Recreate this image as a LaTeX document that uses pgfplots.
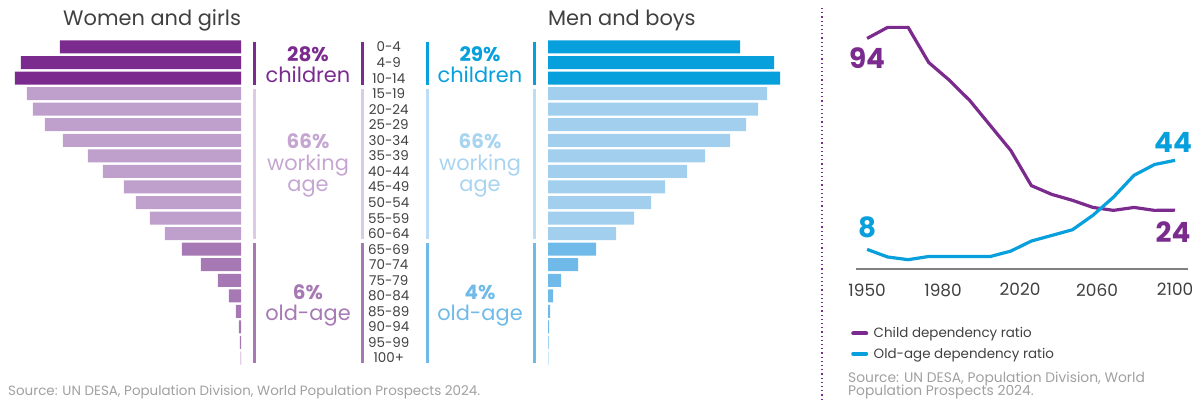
\documentclass[border=0pt]{standalone}
\usepackage{pgfplots}
\pgfplotsset{compat=1.18}
\usepackage{fontspec}
\setmainfont{Poppins}
\definecolor{wchild}{HTML}{7B2B8E}
\definecolor{wwork}{HTML}{BF9FCC}
\definecolor{wold}{HTML}{A678B4}
\definecolor{wworkbr}{HTML}{DCCBE5}
\definecolor{wworktx}{HTML}{C4A6D1}
\definecolor{mchild}{HTML}{079FDC}
\definecolor{mwork}{HTML}{A2CFEE}
\definecolor{mold}{HTML}{6FBAE8}
\definecolor{mworkbr}{HTML}{BCDDF3}
\definecolor{mworktx}{HTML}{A8D4F0}
\definecolor{txt}{HTML}{404040}
\definecolor{src}{HTML}{A0A0A0}
\definecolor{axisgray}{HTML}{808080}
\newcommand{\fs}[1]{\fontsize{#1}{#1}\selectfont}
\begin{document}
\begin{tikzpicture}
\path[use as bounding box] (0bp,0bp) rectangle (1192bp,-403bp);
% ---------------- Women ----------------
\begin{axis}[
  at={(241bp,-39.2bp)}, anchor=north east,
  scale only axis, width=241bp, height=326.6bp,
  xmin=0, xmax=241, ymin=-0.5, ymax=20.5,
  y dir=reverse, x dir=reverse, hide axis,
  xbar, bar width=13bp, bar shift=0pt,
]
\addplot[draw=none, fill=wchild, bar shift=0pt] coordinates {(181,0) (220,1) (226,2)};
\addplot[draw=none, fill=wwork, bar shift=0pt] coordinates {(214,3) (208,4) (196,5) (178,6) (153,7) (138,8) (117,9) (105,10) (91,11) (76,12)};
\addplot[draw=none, fill=wold, bar shift=0pt] coordinates {(59,13) (40,14) (23,15) (12,16) (5,17) (2,18) (1,19) (0.5,20)};
\end{axis}
% ---------------- Men ----------------
\begin{axis}[
  at={(548bp,-39.2bp)}, anchor=north west,
  scale only axis, width=240bp, height=326.6bp,
  xmin=0, xmax=240, ymin=-0.5, ymax=20.5,
  y dir=reverse,
  axis line style={draw=none}, tick style={draw=none},
  xtick=\empty, ytick={0,...,20},
  yticklabels={0-4,4-9,10-14,15-19,20-24,25-29,30-34,35-39,40-44,45-49,50-54,55-59,60-64,65-69,70-74,75-79,80-84,85-89,90-94,95-99,100+},
  yticklabel style={anchor=center, xshift=-155bp, font=\fs{13.5}, text=txt},
  xbar, bar width=13bp, bar shift=0pt,
]
\addplot[draw=none, fill=mchild, bar shift=0pt] coordinates {(192,0) (226,1) (232,2)};
\addplot[draw=none, fill=mwork, bar shift=0pt] coordinates {(219,3) (210,4) (198,5) (182,6) (157,7) (139,8) (117,9) (103,10) (86,11) (68,12)};
\addplot[draw=none, fill=mold, bar shift=0pt] coordinates {(48,13) (30,14) (13,15) (5,16) (2,17) (1,18) (0.5,19) (0.3,20)};
\end{axis}
% ---------------- Dependency ratios ----------------
\begin{axis}[
  at={(856bp,-269bp)}, anchor=south west,
  scale only axis, width=332bp, height=245.3bp,
  xmin=1944.6, xmax=2106.3, ymin=0, ymax=100,
  axis x line*=bottom, axis y line=none,
  x axis line style={axisgray, line width=1.5bp},
  tick style={draw=none},
  xtick={1950,1987,2024.5,2062,2100},
  xticklabels={1950,1980,2020,2060,2100},
  xticklabel style={font=\fs{17}, text=txt, yshift=-11bp},
  clip=false,
  legend style={at={(axis description cs:-0.015,-0.23)}, anchor=north west, draw=none, fill=none,
    font=\fs{13.5}, text=txt, row sep=4.5bp, column sep=3.5bp, inner sep=0pt, cells={anchor=west}},
  legend cell align=left,
  legend image code/.code={\draw[#1, line width=4bp, line cap=round] (0bp,0bp) -- (13bp,0bp);},
]
\addplot[wchild, line width=3.2bp] coordinates {
(1950,94) (1960,98.5) (1970,98.5) (1980,84.2) (1990,77) (2000,68.7) (2010,58.5) (2020,48.3)
(2030,34) (2040,30.4) (2050,28) (2060,25.1) (2070,23.9) (2080,25.1) (2090,23.9) (2100,24)};
\addlegendentry{Child dependency ratio}
\addplot[mchild, line width=3.2bp] coordinates {
(1950,8) (1960,4.9) (1970,3.8) (1980,5.1) (1990,5.1) (2000,5.1) (2010,5.1) (2020,7.3)
(2030,11.4) (2040,13.7) (2050,16) (2060,21.9) (2070,29.3) (2080,38.2) (2090,42.6) (2100,44.3)};
\addlegendentry{Old-age dependency ratio}
\node[font=\bfseries\fs{28}, text=wchild] at (axis cs:1950,86) {94};
\node[font=\bfseries\fs{28}, text=mchild] at (axis cs:2099,51.6) {44};
\node[font=\bfseries\fs{28}, text=mchild] at (axis cs:1950,17) {8};
\node[font=\bfseries\fs{28}, text=wchild] at (axis cs:2099,15) {24};
\end{axis}
\begin{scope}[x=1bp,y=1bp]
% brackets
\foreach \x in {254,362} {
  \draw[wchild, line width=3bp] (\x,-42) -- (\x,-85);
  \draw[wworkbr, line width=3bp] (\x,-89) -- (\x,-239);
  \draw[wold, line width=3bp] (\x,-243) -- (\x,-363);
}
\foreach \x in {427,534} {
  \draw[mchild, line width=3bp] (\x,-42) -- (\x,-85);
  \draw[mworkbr, line width=3bp] (\x,-89) -- (\x,-239);
  \draw[mold, line width=3bp] (\x,-243) -- (\x,-363);
}
% group texts
\node[anchor=base, font=\bfseries\fs{20}, text=wchild] at (308,-61) {28\%};
\node[anchor=base, font=\fs{21}, text=wchild] at (308,-82) {children};
\node[anchor=base, font=\bfseries\fs{20}, text=wworktx] at (308,-148) {66\%};
\node[anchor=base, font=\fs{21}, text=wworktx] at (308,-170) {working};
\node[anchor=base, font=\fs{21}, text=wworktx] at (308,-191) {age};
\node[anchor=base, font=\bfseries\fs{20}, text=wold] at (308,-299) {6\%};
\node[anchor=base, font=\fs{21}, text=wold] at (308,-320) {old-age};
\node[anchor=base, font=\bfseries\fs{20}, text=mchild] at (480,-61) {29\%};
\node[anchor=base, font=\fs{21}, text=mchild] at (480,-82) {children};
\node[anchor=base, font=\bfseries\fs{20}, text=mworktx] at (480,-148) {66\%};
\node[anchor=base, font=\fs{21}, text=mworktx] at (480,-170) {working};
\node[anchor=base, font=\fs{21}, text=mworktx] at (480,-191) {age};
\node[anchor=base, font=\bfseries\fs{20}, text=mold] at (480,-299) {4\%};
\node[anchor=base, font=\fs{21}, text=mold] at (480,-320) {old-age};
% titles
\node[anchor=base west, font=\fs{21}, text=txt, inner sep=0pt] at (63,-25) {Women and girls};
\node[anchor=base west, font=\fs{21}, text=txt, inner sep=0pt] at (548,-25) {Men and boys};
% source
\node[anchor=base west, font=\fs{13.5}, text=src, inner sep=0pt] at (8,-395) {Source: UN DESA, Population Division, World Population Prospects 2024.};
% separator
\draw[wchild, line width=1.2bp, dash pattern=on 1.2bp off 3bp] (822,-8) -- (822,-403);
\node[anchor=base west, font=\fs{13.9}, text=src, inner sep=0pt] at (848,-382) {Source: UN DESA, Population Division, World};
\node[anchor=base west, font=\fs{13.9}, text=src, inner sep=0pt] at (848,-395) {Population Prospects 2024.};
\end{scope}
\end{tikzpicture}
\end{document}
